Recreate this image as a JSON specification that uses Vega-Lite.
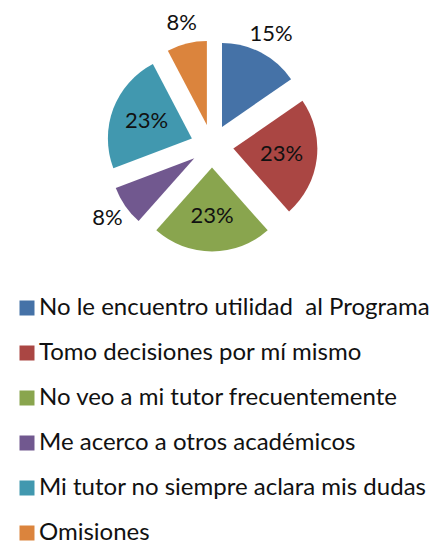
{
  "$schema": "https://vega.github.io/schema/vega-lite/v6.json",
  "width": 424,
  "height": 292,
  "padding": 0,
  "background": "white",
  "config": {"view": {"stroke": null}, "font": "Lato"},
  "data": {
    "values": [
      {"i": 1, "categoria": "No le encuentro utilidad  al Programa", "pct": 0.1538},
      {"i": 2, "categoria": "Tomo decisiones por mí mismo", "pct": 0.2308},
      {"i": 3, "categoria": "No veo a mi tutor frecuentemente", "pct": 0.2308},
      {"i": 4, "categoria": "Me acerco a otros académicos", "pct": 0.0769},
      {"i": 5, "categoria": "Mi tutor no siempre aclara mis dudas", "pct": 0.2308},
      {"i": 6, "categoria": "Omisiones", "pct": 0.0769}
    ]
  },
  "encoding": {
    "theta": {"field": "pct", "type": "quantitative", "stack": true},
    "order": {"field": "i", "type": "quantitative"},
    "color": {
      "field": "categoria",
      "type": "nominal",
      "sort": null,
      "scale": {
        "domain": ["No le encuentro utilidad  al Programa", "Tomo decisiones por mí mismo", "No veo a mi tutor frecuentemente", "Me acerco a otros académicos", "Mi tutor no siempre aclara mis dudas", "Omisiones"],
        "range": ["#4572A7", "#AA4643", "#89A54E", "#71588F", "#4198AF", "#DB843D"]
      },
      "legend": {
        "title": null,
        "orient": "none",
        "legendX": 15,
        "legendY": 296,
        "symbolType": "square",
        "symbolSize": 225,
        "symbolStrokeWidth": 0,
        "symbolOpacity": 1,
        "labelFont": "Lato",
        "labelFontSize": 24,
        "labelColor": "#111111",
        "labelOffset": 0,
        "labelLimit": 0,
        "labelExpr": "replace(datum.label, '  ', '\u00a0 ')",
        "rowPadding": 21
      }
    }
  },
  "layer": [
    {
      "mark": {
        "type": "arc",
        "outerRadius": 84,
        "xOffset": {"expr": "21.5*sin((scale('theta', datum.pct_start)+scale('theta', datum.pct_end))/2)"},
        "yOffset": {"expr": "-21.5*cos((scale('theta', datum.pct_start)+scale('theta', datum.pct_end))/2)"}
      }
    },
    {
      "mark": {
        "type": "text",
        "radius": {"expr": "datum.pct < 0.2 ? 127 : 70"},
        "font": "Lato",
        "fontSize": 22,
        "color": "#111111"
      },
      "encoding": {
        "text": {"field": "pct", "type": "quantitative", "format": ".0%"},
        "color": {"value": "#111111"}
      }
    }
  ]
}
